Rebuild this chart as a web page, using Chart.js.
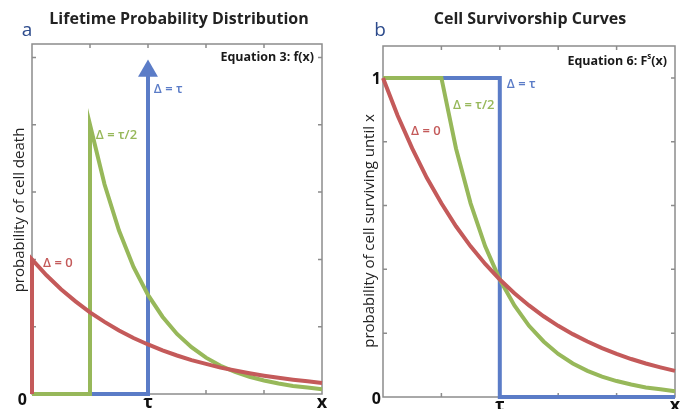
<!DOCTYPE html>
<html>
<head>
<meta charset="utf-8">
<script src="https://cdn.jsdelivr.net/npm/chart.js@4.4.1/dist/chart.umd.min.js"></script>
<style>
  html, body { margin: 0; padding: 0; background: #fff; }
  #wrap { position: relative; width: 683px; height: 409px; overflow: hidden; }
  canvas { position: absolute; top: 0; }
  #chartA { left: 0; }
  #chartB { left: 341px; }
</style>
</head>
<body>
<div id="wrap">
  <canvas id="chartA" width="341" height="409"></canvas>
  <canvas id="chartB" width="342" height="409"></canvas>
</div>
<script>
// x axis runs 0..5, tau = 2, tau/2 = 1
const decayX = [0, 0.25, 0.5, 0.75, 1, 1.25, 1.5, 1.75, 2, 2.25, 2.5, 2.75, 3, 3.25, 3.5, 3.75, 4, 4.25, 4.5, 4.75, 5];
const lateX = [1, 1.25, 1.5, 1.75, 2, 2.25, 2.5, 2.75, 3, 3.25, 3.5, 3.75, 4, 4.25, 4.5, 4.75, 5];

// panel a: probability of cell death f(x)
const deathRed = [0.5, 0.441, 0.389, 0.344, 0.303, 0.268, 0.236, 0.208, 0.184, 0.162, 0.143, 0.126, 0.112, 0.098, 0.087, 0.077, 0.068, 0.06, 0.053, 0.047, 0.041];
const deathGreen = [1, 0.779, 0.607, 0.472, 0.368, 0.287, 0.223, 0.174, 0.135, 0.105, 0.082, 0.064, 0.05, 0.039, 0.03, 0.024, 0.018];
const deathBlueX = [0, 2, 2];
const deathBlueY = [0, 0, 1.2];

// panel b: probability of cell surviving until x
const survRed = [1, 0.882, 0.779, 0.687, 0.607, 0.535, 0.472, 0.417, 0.368, 0.325, 0.287, 0.253, 0.223, 0.197, 0.174, 0.153, 0.135, 0.119, 0.105, 0.093, 0.082];
const survGreen = [1, 0.779, 0.607, 0.472, 0.368, 0.287, 0.223, 0.174, 0.135, 0.105, 0.082, 0.064, 0.05, 0.039, 0.03, 0.024, 0.018];
const survBlueX = [0, 2, 2, 5];
const survBlueY = [1, 1, 0, 0];

// ticks
const xTickMarks = [1, 2, 3, 4];
const deathYTickMarks = [0.25, 0.5, 0.75, 1, 1.25];
const survYTickMarks = [0.2, 0.4, 0.6, 0.8, 1];
const xLabelValues = [2, 5];
const xLabelText = ["τ", "x"];

const RED = "#c45a5a";
const GREEN = "#97b85a";
const BLUE = "#5b7cc7";
const FONT = "'Open Sans', sans-serif";

function toPoints(xs, ys) {
  return xs.map((x, i) => ({ x: x, y: ys[i] }));
}

const decoPlugin = {
  id: "deco",
  beforeDatasetsDraw(chart, args, opts) {
    const { ctx, chartArea: a, scales } = chart;
    ctx.save();
    ctx.strokeStyle = "#8c8c8c";
    ctx.lineWidth = 1.5;
    ctx.strokeRect(a.left, a.top, a.right - a.left, a.bottom - a.top);
    ctx.beginPath();
    opts.xTicks.forEach((v) => {
      const px = scales.x.getPixelForValue(v);
      ctx.moveTo(px, a.bottom);
      ctx.lineTo(px, a.bottom - 4);
      ctx.moveTo(px, a.top);
      ctx.lineTo(px, a.top + 4);
    });
    opts.yTicks.forEach((v) => {
      const py = scales.y.getPixelForValue(v);
      ctx.moveTo(a.left, py);
      ctx.lineTo(a.left + 4, py);
      ctx.moveTo(a.right, py);
      ctx.lineTo(a.right - 4, py);
    });
    ctx.stroke();
    ctx.restore();
  },
  afterDatasetsDraw(chart, args, opts) {
    const { ctx, chartArea: a, scales } = chart;
    ctx.save();
    ctx.textBaseline = "middle";
    ctx.textAlign = "left";
    ctx.font = "600 13px " + FONT;
    opts.labels.forEach((l) => {
      ctx.fillStyle = l.color;
      ctx.fillText(l.text, scales.x.getPixelForValue(l.x), scales.y.getPixelForValue(l.y));
    });
    // equation caption, right aligned in the top corner
    ctx.fillStyle = "#1a1a1a";
    ctx.font = "bold 12.5px " + FONT;
    let x = a.right - 8;
    const y = a.top + opts.eqY;
    const tailW = ctx.measureText(opts.eq[2]).width;
    ctx.textAlign = "right";
    ctx.fillText(opts.eq[2], x, y);
    x -= tailW;
    if (opts.eq[1]) {
      ctx.font = "bold 8px " + FONT;
      ctx.fillText(opts.eq[1], x, y - 4);
      x -= ctx.measureText(opts.eq[1]).width;
      ctx.font = "bold 12.5px " + FONT;
    }
    ctx.fillText(opts.eq[0], x, y);
    ctx.restore();
  },
  afterDraw(chart, args, opts) {
    const { ctx } = chart;
    ctx.save();
    ctx.textAlign = "center";
    ctx.textBaseline = "middle";
    ctx.fillStyle = "#222";
    ctx.font = "bold 16px " + FONT;
    ctx.fillText(opts.title, opts.titleX, 19);
    ctx.fillStyle = "#2d4b8c";
    ctx.font = "19px " + FONT;
    ctx.fillText(opts.letter, opts.letterX, 31);
    // y axis title
    ctx.fillStyle = "#222";
    ctx.font = "500 15px " + FONT;
    ctx.translate(opts.yTitleX, opts.yTitleY);
    ctx.rotate(-Math.PI / 2);
    ctx.fillText(opts.yTitle, 0, 0);
    ctx.restore();
  }
};

function lineSet(points, color, order, extra) {
  return Object.assign({
    data: points,
    showLine: true,
    borderColor: color,
    backgroundColor: color,
    borderWidth: 4,
    pointRadius: 0,
    tension: 0,
    clip: false,
    order: order
  }, extra || {});
}

function makeChart(id, cfg) {
  return new Chart(document.getElementById(id), {
    type: "scatter",
    data: { datasets: cfg.datasets },
    plugins: [decoPlugin],
    options: {
      responsive: false,
      animation: false,
      events: [],
      layout: { padding: cfg.padding },
      plugins: {
        legend: { display: false },
        tooltip: { enabled: false },
        deco: cfg.deco
      },
      scales: {
        x: {
          type: "linear",
          min: 0,
          max: 5,
          grid: { display: false, drawTicks: false },
          border: { display: false },
          afterBuildTicks: (s) => { s.ticks = xLabelValues.map((v) => ({ value: v })); },
          afterFit: (s) => { s.height = cfg.xHeight; },
          ticks: {
            padding: -2,
            maxRotation: 0,
            autoSkip: false,
            color: "#111",
            font: { family: FONT, size: 18, weight: "bold" },
            callback: (v) => xLabelText[xLabelValues.indexOf(v)]
          }
        },
        y: {
          type: "linear",
          min: 0,
          max: cfg.yMax,
          grid: { display: false, drawTicks: false },
          border: { display: false },
          afterBuildTicks: (s) => { s.ticks = cfg.yLabels.map((v) => ({ value: v })); },
          afterFit: (s) => { s.width = cfg.yWidth; },
          ticks: {
            padding: cfg.yPad,
            labelOffset: cfg.yLabelOffset,
            color: "#111",
            font: { family: FONT, size: 16, weight: "bold" },
            callback: (v) => String(v)
          }
        }
      }
    }
  });
}

makeChart("chartA", {
  padding: { left: 0, right: 19, top: 44, bottom: 0 },
  xHeight: 15,
  yWidth: 32,
  yPad: 5,
  yLabelOffset: 6,
  yMax: 1.3,
  yLabels: [0],
  datasets: [
    lineSet(toPoints(deathBlueX, deathBlueY), BLUE, 3, {
      pointRadius: [0, 0, 11.5],
      pointStyle: "triangle",
      pointBorderWidth: 0
    }),
    lineSet(toPoints([0, 1].concat(lateX), [0, 0].concat(deathGreen)), GREEN, 2),
    lineSet(toPoints([0].concat(decayX), [0].concat(deathRed)), RED, 1)
  ],
  deco: {
    title: "Lifetime Probability Distribution",
    titleX: 179,
    letter: "a",
    letterX: 27,
    yTitle: "probability of cell death",
    yTitleX: 20,
    yTitleY: 210,
    eq: ["Equation 3: f(x)", "", ""],
    eqY: 13,
    xTicks: xTickMarks,
    yTicks: deathYTickMarks,
    labels: [
      { text: "Δ = τ", x: 2.1, y: 1.133, color: BLUE },
      { text: "Δ = τ/2", x: 1.1, y: 0.96, color: GREEN },
      { text: "Δ = 0", x: 0.19, y: 0.485, color: RED }
    ]
  }
});

makeChart("chartB", {
  padding: { left: 0, right: 8, top: 46, bottom: 0 },
  xHeight: 12,
  yWidth: 42,
  yPad: 2,
  yLabelOffset: 2,
  yMax: 1.1,
  yLabels: [0, 1],
  datasets: [
    lineSet(toPoints(survBlueX, survBlueY), BLUE, 3),
    lineSet(toPoints([0].concat(lateX), [1].concat(survGreen)), GREEN, 2),
    lineSet(toPoints(decayX, survRed), RED, 1)
  ],
  deco: {
    title: "Cell Survivorship Curves",
    titleX: 189,
    letter: "b",
    letterX: 39,
    yTitle: "probability of cell surviving until x",
    yTitleX: 29,
    yTitleY: 231,
    eq: ["Equation 6: F", "s", "(x)"],
    eqY: 15,
    xTicks: xTickMarks,
    yTicks: survYTickMarks,
    labels: [
      { text: "Δ = τ", x: 2.12, y: 0.981, color: BLUE },
      { text: "Δ = τ/2", x: 1.2, y: 0.915, color: GREEN },
      { text: "Δ = 0", x: 0.48, y: 0.833, color: RED }
    ]
  }
});
</script>
</body>
</html>
